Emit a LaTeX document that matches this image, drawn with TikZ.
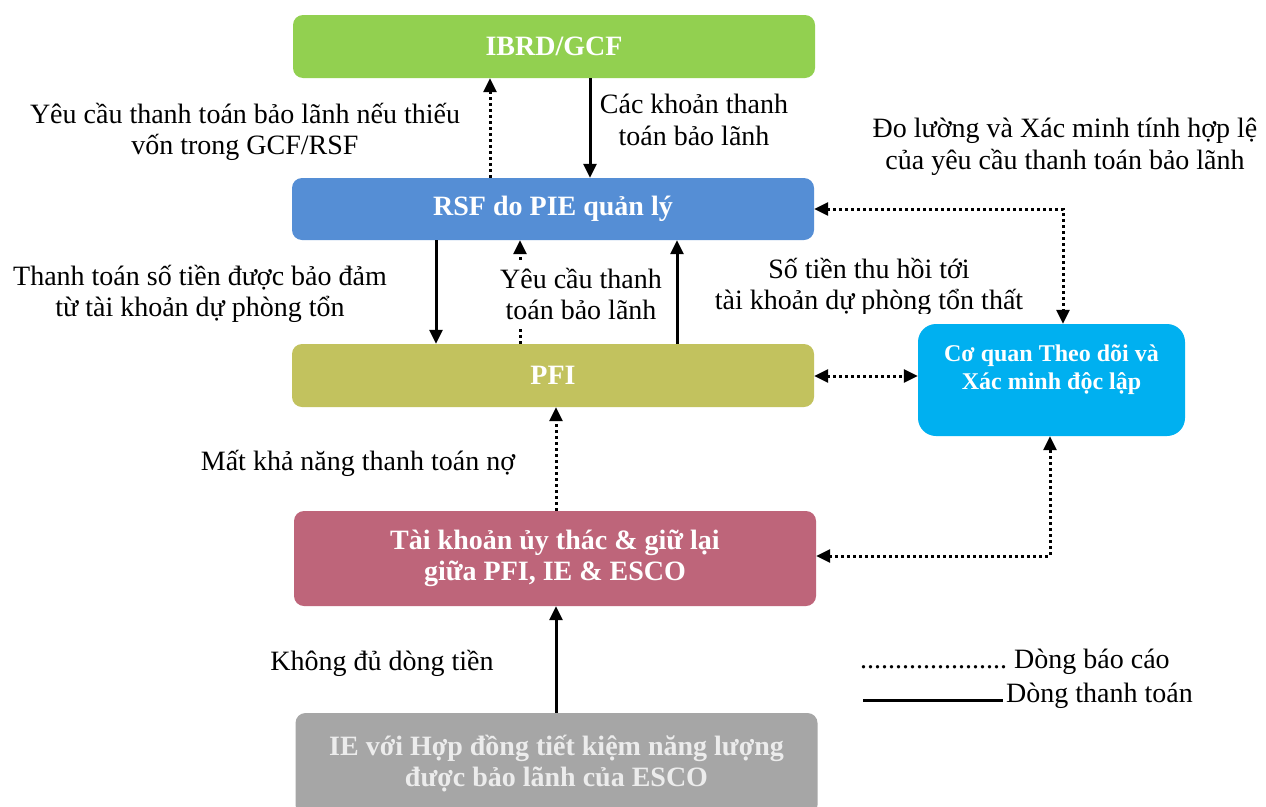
\documentclass[tikz,border=0pt]{standalone}
\usepackage{fontspec}
\setmainfont{Liberation Serif}
\usetikzlibrary{arrows.meta}
\definecolor{cgreen}{RGB}{146,208,80}
\definecolor{cblue}{RGB}{85,142,213}
\definecolor{colive}{RGB}{194,194,94}
\definecolor{ccyan}{RGB}{0,176,240}
\definecolor{cpink}{RGB}{190,101,122}
\definecolor{cgray}{RGB}{166,166,166}
\definecolor{cgraytext}{RGB}{236,236,236}
\tikzset{
  box/.style={rectangle, rounded corners=10pt, minimum width=522pt, inner sep=0pt,
    text=white, font=\fontsize{28}{31}\selectfont\bfseries, align=center},
  lbl/.style={font=\fontsize{28}{31.5}\selectfont, align=center, inner sep=2pt},
  solidarrow/.style={line width=3pt, -{Triangle[length=14pt,width=13pt]}},
  dotarrow/.style={line width=3pt, dash pattern=on 3pt off 3pt, -{Triangle[length=14pt,width=13pt]}},
  dotboth/.style={line width=3pt, dash pattern=on 3pt off 3pt, {Triangle[length=14pt,width=13pt]}-{Triangle[length=14pt,width=13pt]}},
}
\begin{document}
\begin{tikzpicture}[x=1pt,y=-1pt]
\clip (0,0) rectangle (1266,806);
\fill[white] (0,0) rectangle (1266,806);

% boxes
\node[box, fill=cgreen, minimum height=63pt] (ibrd) at (554,46.5) {IBRD/GCF};
\node[box, fill=cblue, minimum height=62pt] (rsf) at (553,209) {RSF do PIE quản lý};
\node[box, fill=colive, minimum height=63pt] (pfi) at (553,375.5) {PFI};
\node[box, fill=ccyan, rounded corners=18pt, minimum width=267pt, minimum height=112pt] (cy) at (1051.5,380) {};
\node[text=white, font=\fontsize{24}{28}\selectfont\bfseries, align=center] (cyt) at (1051.5,370) {Cơ quan Theo dõi và\\Xác minh độc lập};
\node[box, fill=cpink, minimum height=95pt] (esc) at (555,558.5) {Tài khoản ủy thác \& giữ lại\\giữa PFI, IE \& ESCO};
\node[box, fill=cgray, text=cgraytext, minimum height=102pt] (ie) at (556.5,764) {IE với Hợp đồng tiết kiệm năng lượng\\được bảo lãnh của ESCO};

% x coordinates
\coordinate (xa) at (490,0);
\coordinate (xb) at (590,0);
\coordinate (xc) at (436,0);
\coordinate (xd) at (520,0);
\coordinate (xe) at (677,0);
\coordinate (xf) at (556,0);
\coordinate (cr1) at (1063,209);
\coordinate (cr2) at (1050,556);
\coordinate (yp) at (0,376);

% connectors
\draw[dotarrow] (rsf.north -| xa) -- (ibrd.south -| xa);
\draw[solidarrow] (ibrd.south -| xb) -- (rsf.north -| xb);
\draw[solidarrow] (rsf.south -| xc) -- (pfi.north -| xc);
\draw[dotarrow] (pfi.north -| xd) -- (rsf.south -| xd);
\draw[solidarrow] (pfi.north -| xe) -- (rsf.south -| xe);
\draw[dotboth] (rsf.east) -- (cr1) -- (cy.north -| cr1);
\draw[dotboth] (pfi.east |- yp) -- (cy.west |- yp);
\draw[dotboth] (esc.east |- cr2) -- (cr2) -- (cy.south -| cr2);
\draw[dotarrow] (esc.north -| xf) -- (pfi.south -| xf);
\draw[solidarrow] (ie.north -| xf) -- (esc.south -| xf);

% labels
\node[lbl] (l1) at (245,132) {Yêu cầu thanh toán bảo lãnh nếu thiếu\\vốn trong GCF/RSF};
\node[lbl] (l2) at (694,120) {Các khoản thanh\\toán bảo lãnh};
\node[lbl] (l3) at (1065,147) {Đo lường và Xác minh tính hợp lệ\\của yêu cầu thanh toán bảo lãnh};
\node[lbl] (l4) at (200,294) {Thanh toán số tiền được bảo đảm\\từ tài khoản dự phòng tổn};
\node[lbl, fill=white, inner xsep=4pt, inner ysep=8pt] (l5) at (581,294) {Yêu cầu thanh\\toán bảo lãnh};
\begin{scope}
\clip (690,240) rectangle (1045,313);
\node[lbl] (l6) at (869,287) {Số tiền thu hồi tới\\tài khoản dự phòng tổn thất};
\end{scope}
\node[lbl] (l7) at (358,463) {Mất khả năng thanh toán nợ};
\node[lbl] (l8) at (382,663) {Không đủ dòng tiền};

% legend
\node[lbl, anchor=west, inner sep=0pt] (lg1) at (860,662) {.....................\ Dòng báo cáo};
\coordinate (lgs) at (863,700);
\coordinate (lge) at (1003,700);
\draw[line width=3pt] (lgs) -- (lge);
\node[lbl, anchor=west, inner sep=0pt] (lg2) at (1006,696) {Dòng thanh toán};
\end{tikzpicture}
\end{document}
